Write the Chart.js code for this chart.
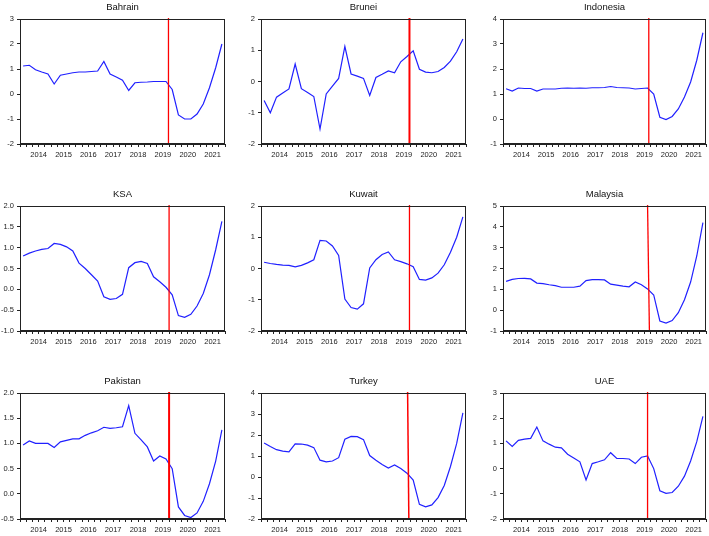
<!DOCTYPE html>
<html>
<head>
<meta charset="utf-8">
<script src="https://cdn.jsdelivr.net/npm/chart.js@4/dist/chart.umd.min.js"></script>
<style>
  body { margin: 0; background: #fff; width: 709px; height: 536px; overflow: hidden; position: relative; }
  canvas { position: absolute; }
</style>
</head>
<body>
<script>
// quarterly observations, 2013Q4 .. 2021Q4
const quarters = [
  "2013Q4",
  "2014Q1","2014Q2","2014Q3","2014Q4",
  "2015Q1","2015Q2","2015Q3","2015Q4",
  "2016Q1","2016Q2","2016Q3","2016Q4",
  "2017Q1","2017Q2","2017Q3","2017Q4",
  "2018Q1","2018Q2","2018Q3","2018Q4",
  "2019Q1","2019Q2","2019Q3","2019Q4",
  "2020Q1","2020Q2","2020Q3","2020Q4",
  "2021Q1","2021Q2","2021Q3","2021Q4"
];
const yearTicks = ["2014","2015","2016","2017","2018","2019","2020","2021"];

const countries = ["Bahrain","Brunei","Indonesia","KSA","Kuwait","Malaysia","Pakistan","Turkey","UAE"];

const bahrain = [1.12,1.15,0.97,0.88,0.80,0.40,0.75,0.80,0.85,0.88,0.88,0.90,0.92,1.30,0.80,0.68,0.55,0.14,
  0.45,0.47,0.48,0.50,0.50,0.50,0.18,-0.84,-1.00,-1.00,-0.80,-0.40,0.25,1.05,2.00];
const brunei = [-0.61,-1.00,-0.50,-0.37,-0.24,0.56,-0.23,-0.35,-0.48,-1.52,-0.40,-0.15,0.10,1.12,0.24,0.17,0.10,-0.45,
  0.13,0.23,0.34,0.28,0.63,0.80,0.98,0.39,0.30,0.28,0.32,0.45,0.65,0.95,1.36];
const indonesia = [1.21,1.12,1.24,1.22,1.22,1.12,1.20,1.20,1.20,1.23,1.24,1.23,1.24,1.23,1.25,1.25,1.26,1.30,
  1.26,1.25,1.24,1.20,1.22,1.24,1.00,0.07,-0.02,0.10,0.40,0.88,1.48,2.35,3.45];
const ksa = [0.80,0.87,0.92,0.96,0.98,1.10,1.08,1.02,0.92,0.63,0.50,0.35,0.20,-0.18,-0.24,-0.22,-0.12,0.52,
  0.64,0.67,0.62,0.30,0.18,0.05,-0.13,-0.63,-0.67,-0.60,-0.40,-0.10,0.35,0.95,1.63];
const kuwait = [0.20,0.16,0.13,0.11,0.10,0.05,0.10,0.18,0.28,0.90,0.88,0.72,0.42,-0.98,-1.25,-1.30,-1.13,0.02,
  0.28,0.45,0.53,0.28,0.22,0.15,0.06,-0.35,-0.37,-0.30,-0.15,0.12,0.52,1.00,1.65];
const malaysia = [1.38,1.48,1.52,1.53,1.50,1.30,1.27,1.22,1.18,1.10,1.10,1.10,1.15,1.42,1.47,1.47,1.45,1.25,
  1.20,1.15,1.12,1.35,1.22,1.02,0.73,-0.52,-0.62,-0.50,-0.12,0.50,1.35,2.60,4.20];
const pakistan = [0.97,1.05,1.00,1.00,1.00,0.92,1.03,1.06,1.09,1.09,1.16,1.21,1.25,1.32,1.30,1.31,1.33,1.75,
  1.20,1.07,0.93,0.65,0.75,0.69,0.50,-0.26,-0.43,-0.47,-0.38,-0.15,0.20,0.65,1.27];
const turkey = [1.62,1.45,1.30,1.23,1.20,1.58,1.57,1.52,1.40,0.80,0.72,0.76,0.92,1.80,1.93,1.92,1.78,1.02,
  0.80,0.60,0.43,0.57,0.40,0.18,-0.15,-1.30,-1.42,-1.33,-0.98,-0.40,0.50,1.60,3.05];
const uae = [1.10,0.88,1.12,1.17,1.20,1.65,1.10,0.97,0.85,0.82,0.57,0.42,0.27,-0.45,0.20,0.27,0.35,0.63,
  0.40,0.40,0.38,0.20,0.45,0.50,0.00,-0.88,-0.98,-0.95,-0.70,-0.30,0.30,1.07,2.07];

const series = [bahrain, brunei, indonesia, ksa, kuwait, malaysia, pakistan, turkey, uae];

// y axis ranges
const yMin  = [-2, -2, -1, -1.0, -2, -1, -0.5, -2, -2];
const yMax  = [ 3,  2,  4,  2.0,  2,  5,  2.0,  4,  3];
const yStep = [ 1,  1,  1,  0.5,  1,  1,  0.5,  1,  1];

// red break line, quarter index at top and bottom of the panel
const breakTop    = [23.4, 23.4, 23.2, 23.5, 23.4, 23.0, 23.5, 23.1, 23.0];
const breakBottom = [23.4, 23.4, 23.2, 23.5, 23.4, 23.3, 23.5, 23.3, 23.0];
const breakWidth  = [1.3, 2, 1.3, 1.3, 1.3, 1.3, 2, 1.5, 1.3];

// plot area placement on the page
const colLeft  = [20, 261, 503];
const colRight = [226, 467, 707];
const rowTop    = [19, 206, 393];
const rowBottom = [144, 331, 519];

const AXIS_W = 24, TITLE_H = 19, XLAB_H = 17, PAD_R = 2;
const FONT = '"Liberation Sans", Arial, sans-serif';

const boxAndBreak = {
  id: 'boxAndBreak',
  afterDatasetsDraw(chart) {
    const { ctx, chartArea: a, scales } = chart;
    const k = chart.options.plugins.boxAndBreak.k;
    ctx.save();
    // red vertical line
    ctx.strokeStyle = '#ff0000';
    ctx.lineWidth = breakWidth[k];
    ctx.beginPath();
    ctx.moveTo(scales.x.getPixelForValue(breakTop[k]), a.top - 1);
    ctx.lineTo(scales.x.getPixelForValue(breakBottom[k]), a.bottom);
    ctx.stroke();
    // frame
    ctx.strokeStyle = '#222';
    ctx.lineWidth = 1;
    ctx.strokeRect(Math.round(a.left) + 0.5, Math.round(a.top) + 0.5,
      Math.round(a.right - a.left) - 1, Math.round(a.bottom - a.top) - 1);
    // title
    ctx.fillStyle = '#111';
    ctx.font = '9.5px ' + FONT;
    ctx.textAlign = 'center';
    ctx.textBaseline = 'middle';
    ctx.fillText(countries[k], (a.left + a.right) / 2, a.top - 12);
    ctx.restore();
  }
};

// label positions: middle of each year (between Q2 and Q3)
const yearPos = yearTicks.map(y => quarters.indexOf(y + "Q2") + 0.5);

countries.forEach((name, k) => {
  const r = Math.floor(k / 3), c = k % 3;
  const w = colRight[c] - colLeft[c] + AXIS_W + PAD_R;
  const h = rowBottom[r] - rowTop[r] + TITLE_H + XLAB_H;
  const cv = document.createElement('canvas');
  cv.style.left = (colLeft[c] - AXIS_W) + 'px';
  cv.style.top = (rowTop[r] - TITLE_H) + 'px';
  cv.style.width = w + 'px';
  cv.style.height = h + 'px';
  cv.width = w; cv.height = h;
  document.body.appendChild(cv);

  const decimals = yStep[k] < 1 ? 1 : 0;

  new Chart(cv.getContext('2d'), {
    type: 'line',
    data: {
      datasets: [{
        data: series[k].map((v, i) => ({ x: i, y: v })),
        borderColor: '#2020ff',
        borderWidth: 1.2,
        pointRadius: 0,
        tension: 0,
        fill: false
      }]
    },
    options: {
      responsive: false,
      animation: false,
      events: [],
      layout: { padding: { top: TITLE_H, right: PAD_R, left: 0, bottom: 0 } },
      plugins: {
        legend: { display: false },
        tooltip: { enabled: false },
        boxAndBreak: { k: k }
      },
      scales: {
        x: {
          type: 'linear',
          min: -0.5,
          max: quarters.length - 0.5,
          afterBuildTicks(scale) {
            const t = [];
            for (let i = 0; i <= quarters.length; i++) t.push({ value: i - 0.5 });
            scale.ticks = t;
          },
          afterFit(scale) { scale.height = XLAB_H; },
          border: { display: true, color: '#222', width: 1 },
          grid: { drawOnChartArea: false, drawTicks: true, tickLength: 3, color: '#222' },
          ticks: {
            autoSkip: false,
            maxRotation: 0,
            padding: 3,
            color: '#222',
            font: { family: FONT, size: 7.5 },
            callback(value) {
              const j = yearPos.indexOf(value);
              return j >= 0 ? yearTicks[j] : '';
            }
          }
        },
        y: {
          min: yMin[k],
          max: yMax[k],
          afterFit(scale) { scale.width = AXIS_W; },
          border: { display: true, color: '#222', width: 1 },
          grid: { drawOnChartArea: false, drawTicks: true, tickLength: 3, color: '#222' },
          ticks: {
            stepSize: yStep[k],
            padding: 3,
            color: '#222',
            font: { family: FONT, size: 7.5 },
            callback(value) { return Number(value).toFixed(decimals); }
          }
        }
      }
    },
    plugins: [boxAndBreak]
  });
});
</script>
</body>
</html>
